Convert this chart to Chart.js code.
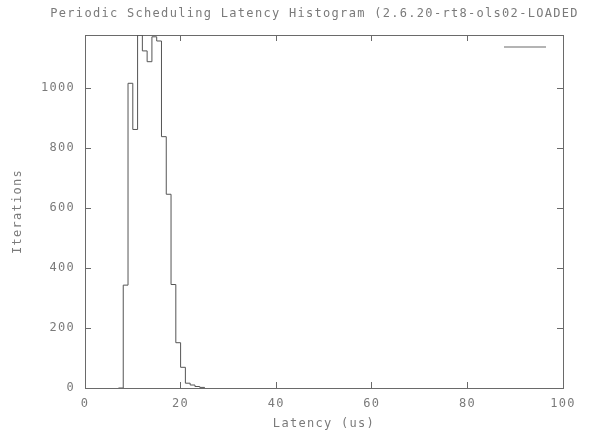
<!DOCTYPE html>
<html>
<head>
<meta charset="utf-8">
<script src="https://cdn.jsdelivr.net/npm/chart.js@4/dist/chart.umd.min.js"></script>
<style>
  html, body { margin: 0; padding: 0; background: #ffffff; }
  #wrap { width: 595px; height: 434px; }
</style>
</head>
<body>
<div id="wrap"><canvas id="c" width="595" height="434"></canvas></div>
<script>
// ---- data ----
const latencyUs = [7, 8, 9, 10, 11, 12, 13, 14, 15, 16, 17, 18, 19, 20, 21, 22, 23, 24, 25];
const iterations = [0, 343, 1016, 862, 1177, 1124, 1088, 1171, 1157, 838, 646, 345, 151, 69, 16, 10, 5, 2, 0];
const xTickValues = [0, 20, 40, 60, 80, 100];
const yTickValues = [0, 200, 400, 600, 800, 1000];
const chartTitle = '    Periodic Scheduling Latency Histogram (2.6.20-rt8-ols02-LOADED';
const xTitle = 'Latency (us)';
const yTitle = 'Iterations';

const FONT = '"DejaVu Sans Mono", "Liberation Mono", monospace';
const TEXT = '#7a7a7a';
const AXIS = '#6a6a6a';
const LINE = '#555555';
const LEGEND_LINE = '#b4b4b4';

const points = latencyUs.map((x, i) => ({ x: x, y: iterations[i] }));
const yMax = Math.max(...iterations);

const spacingPlugin = {
  id: 'spacing',
  beforeLayout(chart) { chart.ctx.letterSpacing = '1.3px'; },
  beforeDraw(chart) { chart.ctx.letterSpacing = '1.3px'; }
};

const legendSample = {
  id: 'legendSample',
  afterDatasetsDraw(chart) {
    const { ctx, chartArea } = chart;
    ctx.save();
    ctx.strokeStyle = LEGEND_LINE;
    ctx.lineWidth = 2;
    ctx.beginPath();
    ctx.moveTo(chartArea.right - 59, chartArea.top + 12);
    ctx.lineTo(chartArea.right - 17, chartArea.top + 12);
    ctx.stroke();
    ctx.restore();
  }
};

function fixTicks(values) {
  return function (scale) { scale.ticks = values.map(v => ({ value: v })); };
}
const plainLabel = v => String(v);

const innerGrid = { drawOnChartArea: false, drawTicks: true, tickLength: -6, color: AXIS, lineWidth: 1 };
const border = { display: true, color: AXIS, width: 1 };

new Chart(document.getElementById('c'), {
  type: 'line',
  data: {
    datasets: [{
      label: '',
      data: points,
      stepped: 'before',
      borderColor: LINE,
      borderWidth: 1,
      pointRadius: 0,
      fill: false
    }]
  },
  options: {
    responsive: false,
    animation: false,
    devicePixelRatio: 1,
    layout: { padding: 0 },
    plugins: {
      legend: { display: false },
      tooltip: { enabled: false },
      title: {
        display: true,
        text: chartTitle,
        color: TEXT,
        font: { family: FONT, size: 12, weight: 'normal' },
        padding: { top: 7, bottom: 13.6 }
      }
    },
    scales: {
      x: {
        type: 'linear', position: 'bottom', min: 0, max: 100,
        afterBuildTicks: fixTicks(xTickValues),
        afterFit(s) { s.height = 46; },
        grid: innerGrid, border: border,
        ticks: { color: TEXT, font: { family: FONT, size: 12 }, padding: 15, maxRotation: 0, callback: plainLabel },
        title: { display: true, text: xTitle, color: TEXT, font: { family: FONT, size: 12 }, padding: { top: 0, bottom: 3 } }
      },
      x2: {
        type: 'linear', position: 'top', min: 0, max: 100,
        afterBuildTicks: fixTicks(xTickValues),
        afterFit(s) { s.height = 0; },
        grid: innerGrid, border: border,
        ticks: { display: false }
      },
      y: {
        type: 'linear', position: 'left', min: 0, max: yMax,
        afterBuildTicks: fixTicks(yTickValues),
        afterFit(s) { s.width = 85; },
        grid: innerGrid, border: border,
        ticks: { color: TEXT, font: { family: FONT, size: 12 }, padding: 16, callback: plainLabel },
        title: { display: true, text: yTitle, color: TEXT, font: { family: FONT, size: 12 }, padding: { top: 11, bottom: 0 } }
      },
      y2: {
        type: 'linear', position: 'right', min: 0, max: yMax,
        afterBuildTicks: fixTicks(yTickValues),
        afterFit(s) { s.width = 32; },
        grid: innerGrid, border: border,
        ticks: { display: false }
      }
    }
  },
  plugins: [spacingPlugin, legendSample]
});
</script>
</body>
</html>
